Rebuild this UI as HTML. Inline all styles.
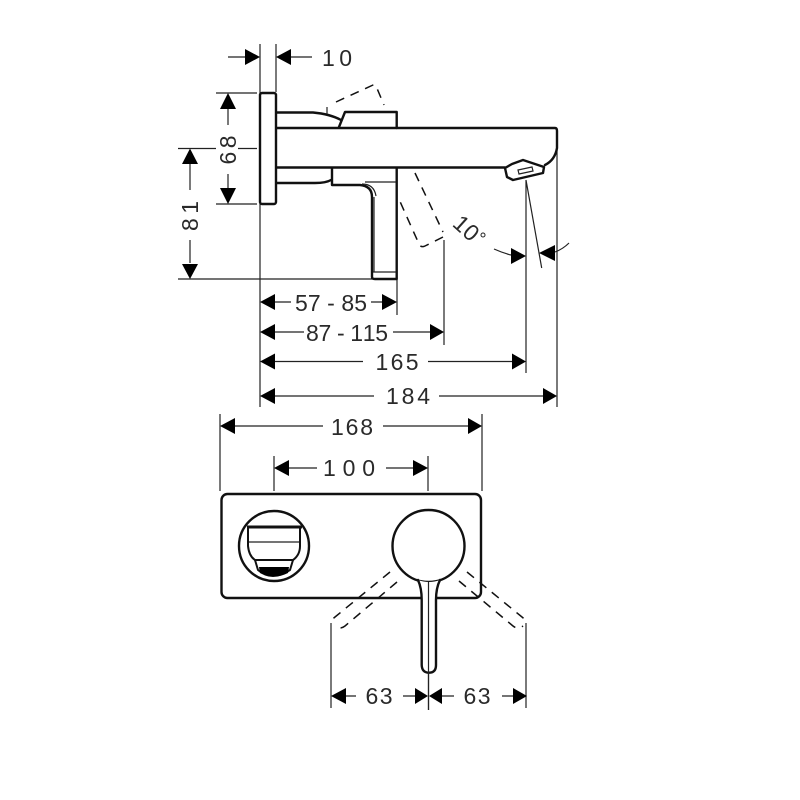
<!DOCTYPE html>
<html><head><meta charset="utf-8"><style>
html,body{margin:0;padding:0;background:#fff}
svg{display:block}
text{font-family:"Liberation Sans",sans-serif;font-size:23px;fill:#2a2a2a;text-anchor:middle;font-kerning:none}
.t{stroke:#222;stroke-width:1.2;fill:none}
.k{stroke:#111;stroke-width:2.4;fill:none;stroke-linejoin:round;stroke-linecap:round}
.d{stroke:#111;stroke-width:1.5;fill:none;stroke-dasharray:9 7}
.a{fill:#000}
</style></head><body>
<svg width="800" height="800" viewBox="0 0 800 800" xmlns="http://www.w3.org/2000/svg">
<rect width="800" height="800" fill="#fff"/>
<!-- extension lines -->
<path class="t" d="M260 44V407M276 44V92M216 93H257M216 204H257M178 148.5H216M238 148.5H257M178 279H397M397 279V315M444 240V345M526 180V373M557 150V407M526 180L541.7 268"/>
<path class="t" d="M220 414V491M482 414V491M274 456V491M428 456V491M331 623V708M526 623V708M428.5 582V710"/>
<!-- dimension lines -->
<path class="t" d="M228 57H246M291 57H312M228 109V125M228 174V190M190 164V190M190 240V263"/>
<path class="t" d="M275 302H291M371 302H382M275 332H304M393 332H430M275 361.5H363M428 361.5H512M275 396H374M439 396H543"/>
<path class="t" d="M235 426H323M383 426H468M289 468H317M386 468H413M346 696H356M403 696H415M442 696H454M502 696H513"/>
<path class="t" d="M494 249Q503 253 511 255M555 252Q563 249 569 243"/>
<!-- arrowheads -->
<g class="a">
<path d="M260 57L245 49V65ZM276 57L291 49V65Z"/>
<path d="M228 93L220 109H236ZM228 204L220 188H236ZM190 148.5L182 164H198ZM190 279L182 264H198Z"/>
<path d="M260 302L275 294V310ZM397 302L382 294V310ZM260 332L275 324V340ZM444 332L430 324V340ZM260 361.5L275 353.5V369.5ZM526 361.5L512 353.5V369.5ZM260 396L275 388V404ZM557 396L543 388V404Z"/>
<path d="M220 426L235 418V434ZM482 426L468 418V434ZM274 468L289 460V476ZM428 468L413 460V476Z"/>
<path d="M331 696L346 688V704ZM428 696L415 688V704ZM429 696L442 688V704ZM527 696L513 688V704Z"/>
<path d="M526 256L511 248V264ZM539 253L555 245V261Z"/>
</g>
<!-- labels -->
<text x="337" y="66" textLength="30">10</text>
<text transform="translate(236,150) rotate(-90)" textLength="29">68</text>
<text transform="translate(198,216) rotate(-90)" textLength="30">81</text>
<text x="331" y="311" textLength="72">57 - 85</text>
<text x="347" y="341" textLength="82">87 - 115</text>
<text x="397" y="370" textLength="43">165</text>
<text x="408" y="404" textLength="44">184</text>
<text x="352" y="435" textLength="42">168</text>
<text x="349" y="476" textLength="52">100</text>
<text x="379" y="704" textLength="27">63</text>
<text x="477" y="704" textLength="27">63</text>
<text transform="translate(461,234) rotate(42)" textLength="26">10</text>
<circle cx="483" cy="235" r="2" fill="none" stroke="#222" stroke-width="1"/>
<!-- side view -->
<rect x="260" y="93" width="16" height="111" rx="2" class="k"/>
<path class="k" d="M277 128H555Q557 128 557 131V148Q555 160 545 165"/>
<path class="k" d="M277 167.5H505"/>
<path class="k" d="M505 168L507 177L513 180L543 173L544 167L523 160L512 164Z"/>
<path class="t" d="M518 170L532 167L533 171L519 174Z"/>
<path class="k" d="M277 112.5H313Q330 114 341 120"/>
<path class="k" d="M339 127L345 112H396.700V128"/>
<path class="k" d="M277 183H315Q326 183 331 180"/>
<path class="k" d="M332 168V185L360 185Q372 186 372 197V277Q372 279 375 279H396.700V168"/>
<path class="t" d="M365 182H396M374 197V272M373 272H396M362 184Q374 184 376 196"/>
<path class="t" d="M327 107V114"/>
<path class="d" d="M336 102L373 85Q375 84 376 86L384 105"/>
<path class="d" d="M415 173L443 232"/>
<path class="d" d="M443 237L425 246Q421 248 419 244L398 197"/>
<!-- front view -->
<rect x="221.500" y="494" width="259.500" height="104" rx="6" class="k"/>
<circle cx="274" cy="546" r="35" class="k"/>
<path d="M247 527H302" stroke="#111" stroke-width="3" fill="none"/>
<path class="t" d="M249 542H299"/>
<path class="k" style="stroke-width:2" d="M248 527V546Q249 556 255 560L258 570Q272 582 290 570L293 560Q300 555 300 546V527"/>
<path d="M259 567H289L288 573Q274 580 260 573Z" fill="#000"/>
<path class="k" style="stroke-width:2" d="M255 560H293"/>
<circle cx="428.500" cy="546" r="36" class="k" style="fill:#fff"/>
<path d="M418 580Q421 590 421.700 600V665Q422 672.700 429 672.700Q436 672.700 436 665V600Q436 590 440 580Q429 584 418 580Z" fill="#fff"/>
<path class="k" d="M418 580Q421.700 588 421.700 600V665Q422 672.700 429 672.700Q436 672.700 436 665V600Q436 588 440 580"/>
<path class="t" d="M428.500 582V710"/>
<path class="d" d="M390 572L335 617Q330 621 332 624"/>
<path class="d" d="M397 582L345 626Q340 630 335 626"/>
<path class="d" d="M467 572L522 617Q527 621 525 624"/>
<path class="d" d="M459 581L513 626Q518 630 523 626"/>
</svg>
</body></html>
